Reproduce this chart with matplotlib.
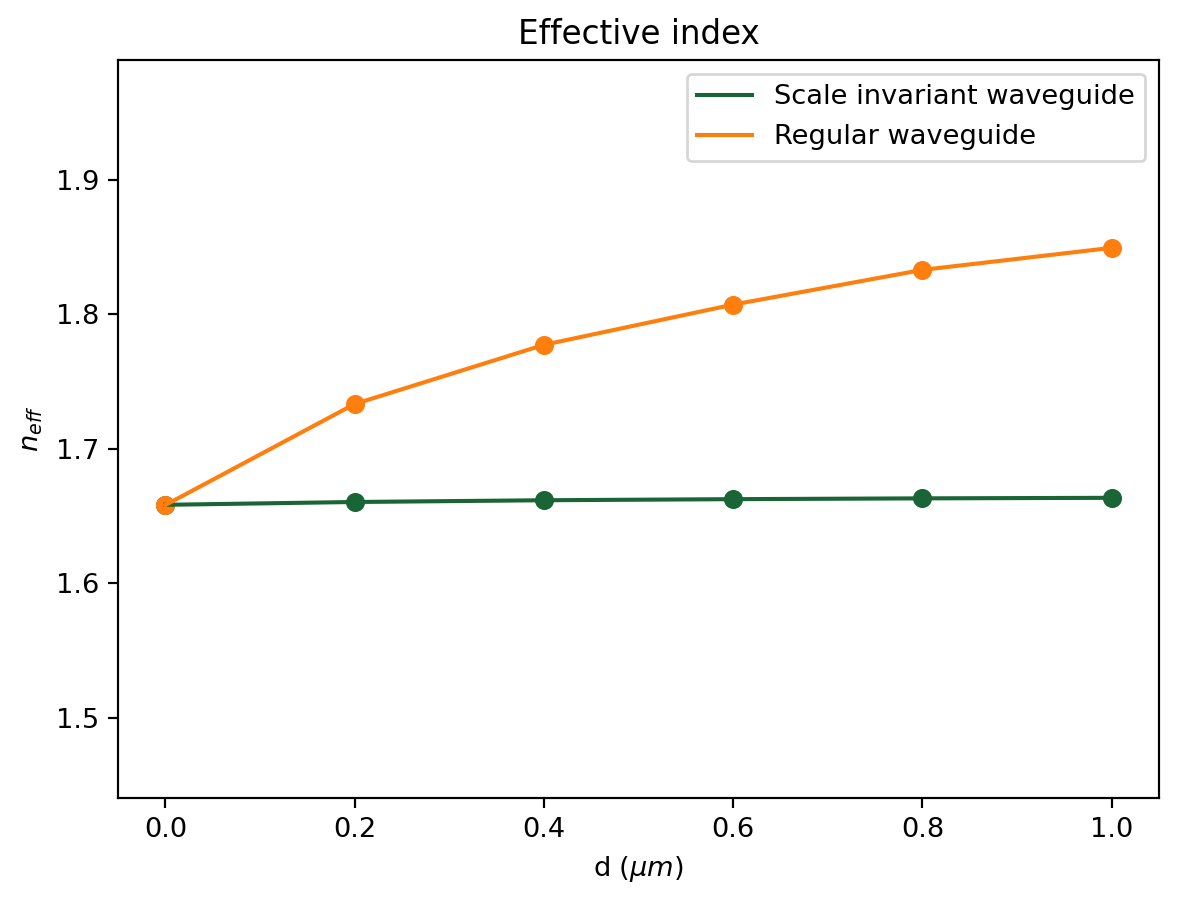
import numpy as np
import matplotlib
matplotlib.use('Agg')
import matplotlib.pyplot as plt

d = [0.0, 0.2, 0.4, 0.6, 0.8, 1.0]
n_scale_inv = [1.6584, 1.6605, 1.6618, 1.6626, 1.6632, 1.6636]
n_regular = [1.6582, 1.7333, 1.7773, 1.8072, 1.8330, 1.8494]

green = '#1a6535'
orange = '#ff7f0e'

dpi = 196
fig = plt.figure(figsize=(1179/dpi, 901/dpi), dpi=dpi)
ax = fig.add_axes([118/1179, 1 - 798/901, (1159 - 118)/1179, (798 - 60)/901])

ax.plot(d, n_scale_inv, color=green, label='Scale invariant waveguide')
ax.scatter(d, n_scale_inv, color=green)
ax.plot(d, n_regular, color=orange, label='Regular waveguide')
ax.scatter(d, n_regular, color=orange)

ax.set_ylim(1.4405, 1.989)
ax.set_xlabel(r'd ($\mu m$)')
ax.set_ylabel(r'$n_{eff}$')
ax.set_title('Effective index')
ax.legend(loc='upper right')

plt.savefig('out.png', dpi=dpi)
